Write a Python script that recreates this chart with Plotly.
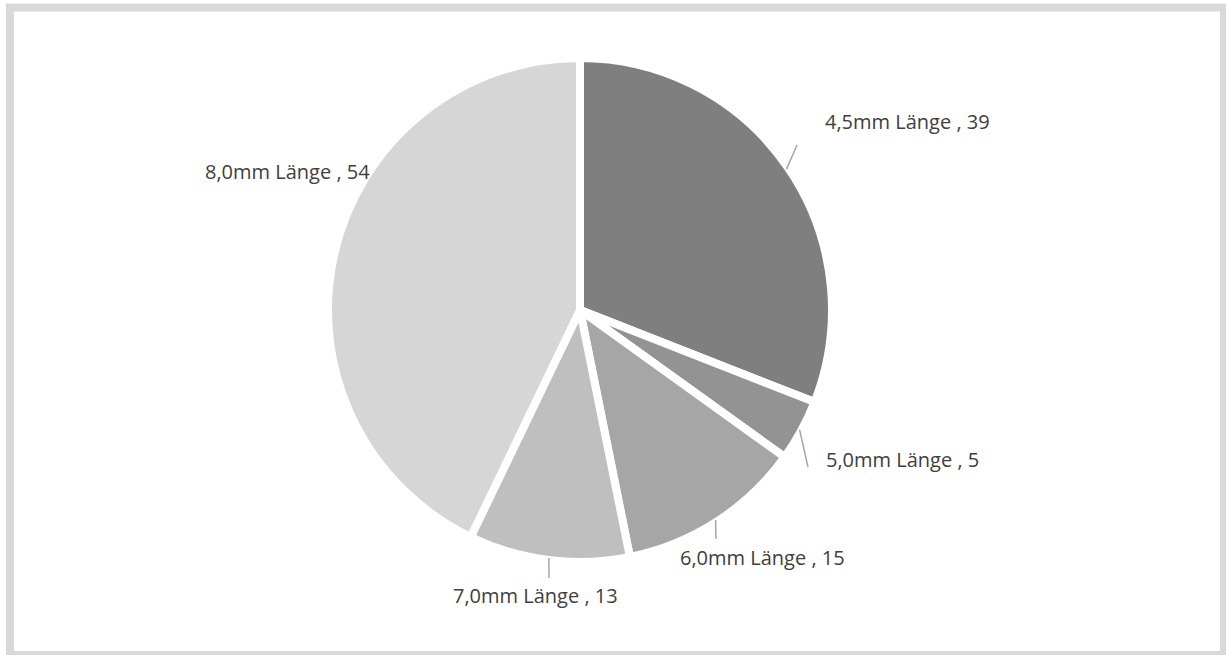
import math
import plotly.graph_objects as go

# Data
labels = ["4,5mm Länge", "5,0mm Länge", "6,0mm Länge", "7,0mm Länge", "8,0mm Länge"]
values = [39, 5, 15, 13, 54]
colors = ["#7f7f7f", "#939393", "#a6a6a6", "#bfbfbf", "#d6d6d6"]

W, H = 1226, 655
CX, CY, R = 580, 310, 252          # pie centre and outer radius in pixels
R_VISIBLE = 248                     # radius after the white slice border

# label centres (pixels) and the end point of each leader line
label_pos = [(907, 121), (902, 459), (762, 557), (535, 595), (287, 171)]
leader_end = [(797, 145), (808, 467), (716, 539), (549, 578), None]


def px(x):
    return x / W


def py(y):
    return 1 - y / H


fig = go.Figure(
    go.Pie(
        labels=labels,
        values=values,
        sort=False,
        direction="clockwise",
        rotation=0,
        marker=dict(colors=colors, line=dict(color="white", width=8)),
        textinfo="none",
        hoverinfo="label+value",
        domain=dict(x=[px(CX - R), px(CX + R)], y=[py(CY + R), py(CY - R)]),
        showlegend=False,
    )
)

shapes = []
annotations = []
total = sum(values)
cum = 0
for lab, val, pos, end in zip(labels, values, label_pos, leader_end):
    mid = (cum + val / 2) / total * 2 * math.pi
    cum += val
    if end is not None:
        sx = CX + (R_VISIBLE + 2) * math.sin(mid)
        sy = CY - (R_VISIBLE + 2) * math.cos(mid)
        shapes.append(dict(
            type="line", xref="paper", yref="paper",
            x0=px(sx), y0=py(sy), x1=px(end[0]), y1=py(end[1]),
            line=dict(color="#a6a6a6", width=1.5),
        ))
    annotations.append(dict(
        text=f"{lab} , {val}", xref="paper", yref="paper",
        x=px(pos[0]), y=py(pos[1]), xanchor="center", yanchor="middle",
        showarrow=False,
        font=dict(family="Open Sans", size=20, color="#404040"),
    ))

# outer frame
shapes.append(dict(
    type="rect", xref="paper", yref="paper",
    x0=px(10), y0=py(7.5), x1=px(1224), y1=py(655),
    line=dict(color="#d9d9d9", width=8), fillcolor="rgba(0,0,0,0)",
))

fig.update_layout(
    width=W, height=H,
    margin=dict(l=0, r=0, t=0, b=0),
    paper_bgcolor="white",
    plot_bgcolor="white",
    shapes=shapes,
    annotations=annotations,
)

fig.write_html("out.html")
